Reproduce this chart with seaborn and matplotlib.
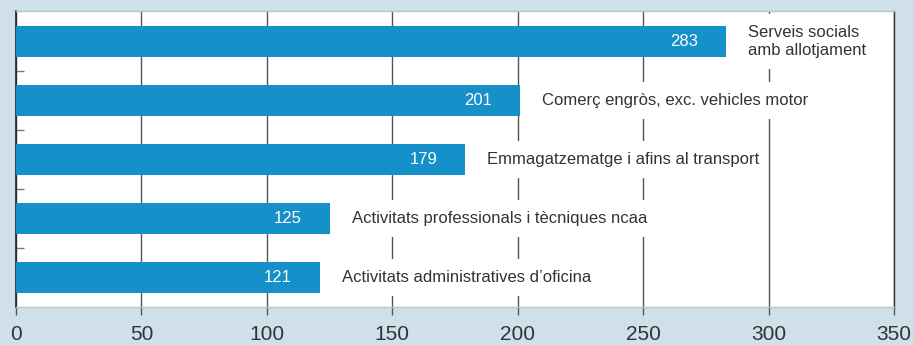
import matplotlib
matplotlib.use("Agg")
import matplotlib.pyplot as plt
import seaborn as sns
import pandas as pd

# Sectors and their counts
sectors = [
    "Serveis socials\namb allotjament",
    "Comerç engròs, exc. vehicles motor",
    "Emmagatzematge i afins al transport",
    "Activitats professionals i tècniques ncaa",
    "Activitats administratives d\u2019oficina",
]
counts = [283, 201, 179, 125, 121]
x_ticks = [0, 50, 100, 150, 200, 250, 300, 350]

BG = "#cfe0eb"
BAR = "#1590c9"
TXT = "#333333"
GRID = "#555555"

plt.rcParams["font.family"] = ["Liberation Sans", "DejaVu Sans"]

df = pd.DataFrame({"sector": sectors, "count": counts})

fig = plt.figure(figsize=(9.14, 3.45), dpi=100, facecolor=BG)
ax = fig.add_axes([16 / 914, 1 - 307 / 345, 878 / 914, 296 / 345])
ax.set_facecolor("white")

sns.barplot(data=df, x="count", y="sector", orient="h", color=BAR,
            saturation=1, width=0.525, ax=ax, zorder=3)

ax.set_xlim(0, 350)
ax.set_ylim(4.5, -0.517)
ax.set_xticks(x_ticks)
ax.set_xticklabels([str(t) for t in x_ticks])
ax.set_yticks([0.5, 1.5, 2.5, 3.5])
ax.set_yticklabels([])
ax.set_xlabel("")
ax.set_ylabel("")

ax.grid(axis="x", color=GRID, linewidth=1.0, zorder=0)
ax.grid(axis="y", visible=False)
ax.set_axisbelow(True)

ax.tick_params(axis="x", direction="out", length=6, width=1.0, color=GRID,
               labelsize=15, labelcolor=TXT, pad=7)
ax.tick_params(axis="y", direction="in", length=6, width=1.0, color="#777777")

for side in ["top", "bottom"]:
    ax.spines[side].set_color("#b9c3cc")
    ax.spines[side].set_linewidth(1.0)
ax.spines["left"].set_color("#222222")
ax.spines["left"].set_linewidth(1.2)
ax.spines["right"].set_color("#333333")
ax.spines["right"].set_linewidth(1.0)

for i, (name, val) in enumerate(zip(sectors, counts)):
    ax.annotate(str(val), xy=(val, i), xytext=(-20, 0),
                textcoords="offset points", ha="right", va="center",
                color="white", fontsize=12, zorder=5)
    # white label box hides the gridlines across the bar's band
    ax.annotate(name, xy=(val, i), xytext=(16, 0),
                textcoords="offset points", ha="left", va="center",
                color=TXT, fontsize=12, zorder=4, linespacing=1.3,
                bbox=dict(boxstyle="square,pad=0.3", mutation_aspect=2.2,
                          fc="white", ec="none"))

fig.savefig("out.png", dpi=100, facecolor=BG)
